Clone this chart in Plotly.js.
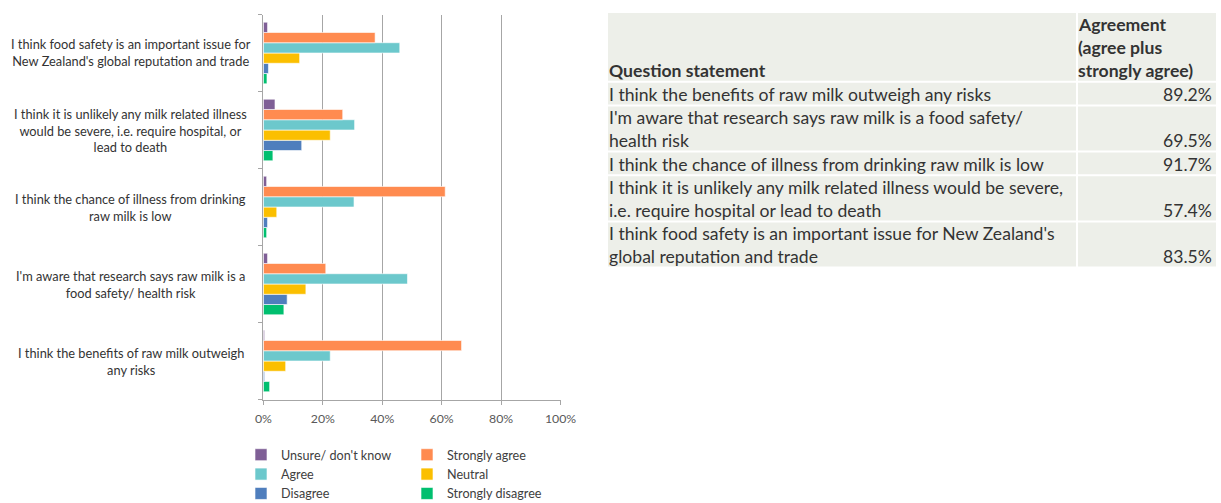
<!DOCTYPE html>
<html>
<head>
<meta charset="utf-8">
<script src="https://cdn.plot.ly/plotly-3.0.1.min.js"></script>
<style>html,body{margin:0;padding:0;background:#fff;}#chart{width:1221px;height:503px;}</style>
</head>
<body>
<div id="chart"></div>
<script>
// Categories (bottom to top on the axis)
const categories = [
  "I think the benefits of raw milk outweigh any risks",
  "I'm aware that research says raw milk is a food safety/ health risk",
  "I think the chance of illness from drinking raw milk is low",
  "I think it is unlikely any milk related illness would be severe, i.e. require hospital, or lead to death",
  "I think food safety is an important issue for New Zealand's global reputation and trade"
];
const categoryLabels = [
  "I think the benefits of raw milk outweigh<br>any risks",
  "I'm aware that research says raw milk is a<br>food safety/ health risk",
  "I think the chance of illness from drinking<br>raw milk is low",
  "I think it is unlikely any milk related illness<br>would be severe, i.e. require hospital, or<br>lead to death",
  "I think food safety is an important issue for<br>New Zealand's global reputation and trade"
];
// Series values (%), same order as categories
const unsure           = [0.4, 1.4, 1.1, 3.9, 1.4];
const stronglyAgree    = [66.7, 21.0, 61.2, 26.7, 37.6];
const agree            = [22.5, 48.5, 30.5, 30.7, 45.9];
const neutral          = [7.5, 14.3, 4.5, 22.5, 12.2];
const disagree         = [0.4, 8.0, 1.4, 12.9, 1.7];
const stronglyDisagree = [2.1, 6.9, 1.1, 3.2, 1.2];
const xTicks = [0, 20, 40, 60, 80, 100];

// Table
const tableHeader = ["Question statement", "Agreement<br>(agree plus<br>strongly agree)"];
const tableStatements = [
  "I think the benefits of raw milk outweigh any risks",
  "I'm aware that research says raw milk is a food safety/<br>health risk",
  "I think the chance of illness from drinking raw milk is low",
  "I think it is unlikely any milk related illness would be severe,<br>i.e. require hospital or lead to death",
  "I think food safety is an important issue for New Zealand's<br>global reputation and trade"
];
const tableAgreement = [89.2, 69.5, 91.7, 57.4, 83.5];

(function () {
const W = 1221, H = 503;
const px = v => v / W, py = v => 1 - v / H;
const FONT = "Lato, sans-serif";

const series = [
  {name: "Strongly disagree", y: stronglyDisagree, color: "#00BF6F", legend: "legend2", rank: 3},
  {name: "Disagree", y: disagree, color: "#4F7EBD", legend: "legend", rank: 3},
  {name: "Neutral", y: neutral, color: "#FBBF00", legend: "legend2", rank: 2},
  {name: "Agree", y: agree, color: "#6CC8CC", legend: "legend", rank: 2},
  {name: "Strongly agree", y: stronglyAgree, color: "#FF8B50", legend: "legend2", rank: 1},
  {name: "Unsure/ don't know", y: unsure, color: "#7F5F96", legend: "legend", rank: 1}
];

const traces = series.map(s => ({
  type: "bar", orientation: "h",
  x: s.y, y: categories, name: s.name,
  marker: {color: s.color, line: {color: "rgba(255,255,255,0.6)", width: 1}},
  legend: s.legend, legendrank: s.rank,
  hoverinfo: "x+name"
}));

const annotations = categories.map((c, i) => ({
  xref: "paper", yref: "y", x: px(130.5), y: c,
  xanchor: "center", yanchor: "middle",
  text: categoryLabels[i], showarrow: false, align: "center",
  font: {family: FONT, size: 12.8, color: "#333333"}
}));

// ---- Table drawn with shapes + annotations ----
const shapes = [];
const TX0 = 608, TX1 = 1076, TX2 = 1078, TX3 = 1216;
const LINE_H = 22.6, GAP = 2, TEXT_LINE = 23;
const TFONT = {family: FONT, size: 17.6, color: "#333333"};
const splitLines = s => s.split("<br>");
function cellRect(x0, x1, y0, y1) {
  shapes.push({type: "rect", xref: "paper", yref: "paper",
    x0: px(x0), x1: px(x1), y0: py(y1), y1: py(y0),
    fillcolor: "#EDEFE9", line: {width: 0}, layer: "below"});
}
function cellText(text, x, bottom, anchor, bold) {
  const ls = splitLines(text);
  ls.forEach((line, k) => {
    const yCenter = bottom - 10 - (ls.length - 1 - k) * TEXT_LINE;
    annotations.push({xref: "paper", yref: "paper", x: px(x), y: py(yCenter),
      xanchor: anchor, yanchor: "middle", align: anchor, showarrow: false,
      text: bold ? "<b>" + line + "</b>" : line, font: TFONT});
  });
}
let rowTop = 13;
{
  const h = Math.max(splitLines(tableHeader[0]).length, splitLines(tableHeader[1]).length) * LINE_H;
  const bottom = rowTop + h;
  cellRect(TX0, TX1, rowTop, bottom);
  cellRect(TX2, TX3, rowTop, bottom);
  cellText(tableHeader[0], TX0 - 1, bottom, "left", true);
  cellText(tableHeader[1], TX2 - 2, bottom, "left", true);
  rowTop = bottom + GAP;
}
tableStatements.forEach((s, i) => {
  const h = splitLines(s).length * LINE_H - 1;
  const bottom = rowTop + h;
  cellRect(TX0, TX1, rowTop, bottom);
  cellRect(TX2, TX3, rowTop, bottom);
  cellText(s, TX0 - 1, bottom, "left", false);
  cellText(tableAgreement[i].toFixed(1) + "%", TX3 - 2, bottom, "right", false);
  rowTop = bottom + GAP;
});

const legendBase = {
  xanchor: "left", yanchor: "top",
  orientation: "v", traceorder: "normal", tracegroupgap: 0,
  font: {family: FONT, size: 12.6, color: "#404040"},
  bgcolor: "rgba(0,0,0,0)", itemwidth: 30
};

const layout = {
  width: W, height: H,
  margin: {l: 0, r: 0, t: 0, b: 0, autoexpand: false},
  paper_bgcolor: "#FFFFFF", plot_bgcolor: "#FFFFFF",
  barmode: "group", bargap: 0.2, bargroupgap: 0,
  font: {family: FONT, size: 12, color: "#595959"},
  xaxis: {
    domain: [px(263.4), px(560.5)],
    range: [0, 100], tickvals: xTicks, ticktext: xTicks.map(v => v + "%"),
    showgrid: true, gridcolor: "#A6A6A6", gridwidth: 1,
    showline: true, linecolor: "#A6A6A6", linewidth: 1,
    ticks: "outside", ticklen: 4, tickcolor: "#A6A6A6",
    ticklabelstandoff: 4,
    zeroline: false, fixedrange: true, automargin: false,
    tickfont: {family: FONT, size: 12.3, color: "#595959"}
  },
  yaxis: {
    domain: [py(399.5), py(14.5)],
    type: "category", categoryorder: "array", categoryarray: categories,
    showticklabels: false,
    showline: true, linecolor: "#A6A6A6", linewidth: 1,
    ticks: "outside", ticklen: 4, tickcolor: "#A6A6A6", tickson: "boundaries",
    showgrid: false, zeroline: false, fixedrange: true, automargin: false
  },
  legend: Object.assign({x: px(241), y: py(440)}, legendBase),
  legend2: Object.assign({x: px(407), y: py(440)}, legendBase),
  showlegend: true,
  shapes: shapes,
  annotations: annotations
};

Plotly.newPlot("chart", traces, layout, {displayModeBar: false});
})();
</script>
</body>
</html>
